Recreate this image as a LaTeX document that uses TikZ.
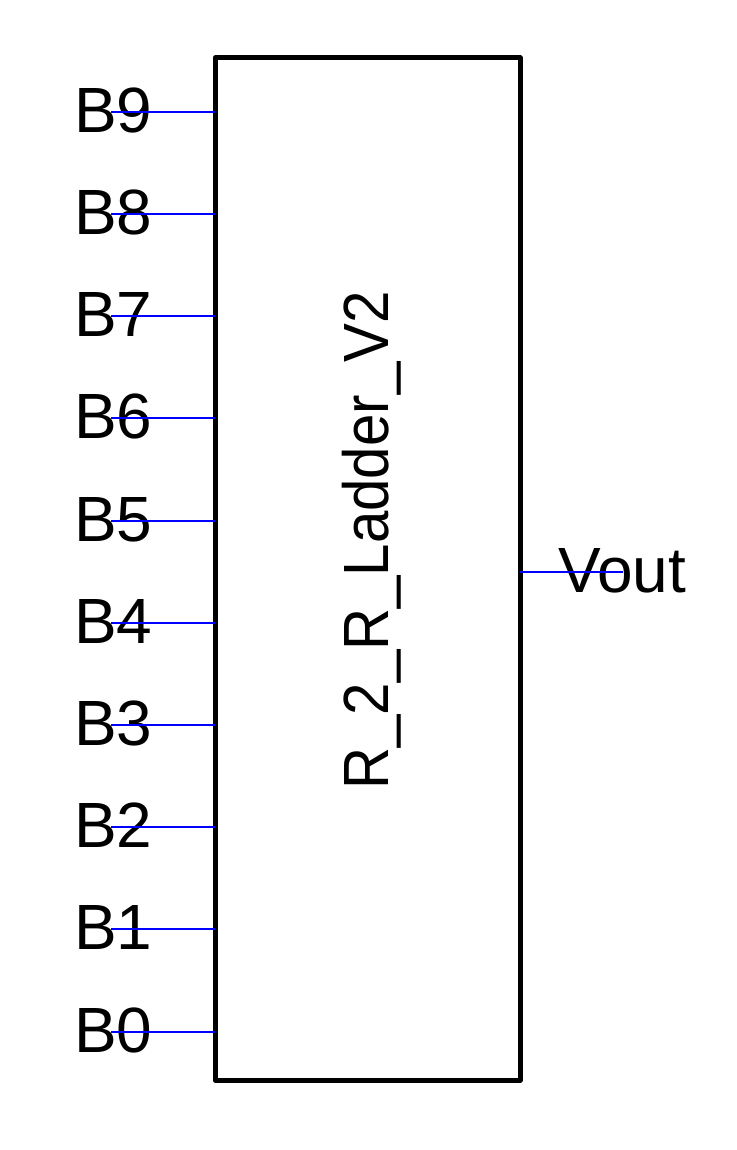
\documentclass[tikz,border=0pt]{standalone}
\usepackage{fontspec}
\setmainfont{Liberation Sans}
\begin{document}
\begin{tikzpicture}[
    pinwire/.style={blue, line width=0.57pt},
    pinlabel/.style={inner sep=0pt, font=\fontsize{18.2}{22}\selectfont}]
\useasboundingbox (0,0) rectangle (7.36,-11.5);
\node[draw, line width=1.42pt, line join=round, inner sep=0pt, outer sep=0pt,
      minimum width=3.05cm, minimum height=10.22cm, anchor=north west] (ladder) at (2.15,-0.58) {};
\node[pinlabel, rotate=90, anchor=base] (name) at (3.88,-5.405) {\scalebox{0.91}[1]{R\_2\_R\_Ladder\_V2}};
\foreach \i in {0,...,9}{
    \coordinate (b\i) at (1.11,{-10.317+\i*1.0222});
    \node[pinlabel, anchor=base west] (lb\i) at (0.733,{-10.522+\i*1.0222}) {B\i};
    \draw[pinwire] (b\i) -- (b\i -| ladder.west);
}
\coordinate (vout) at (6.23,-5.717);
\node[pinlabel, anchor=base west] (lvout) at (5.574,-5.922) {Vout};
\draw[pinwire] (ladder.east |- vout) -- (vout);
\end{tikzpicture}
\end{document}
